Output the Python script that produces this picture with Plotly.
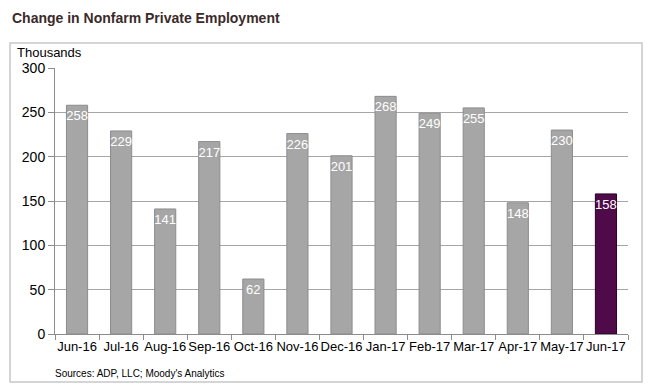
import plotly.graph_objects as go

months = ["Jun-16", "Jul-16", "Aug-16", "Sep-16", "Oct-16", "Nov-16", "Dec-16",
          "Jan-17", "Feb-17", "Mar-17", "Apr-17", "May-17", "Jun-17"]
values = [258, 229, 141, 217, 62, 226, 201, 268, 249, 255, 148, 230, 158]
y_ticks = [0, 50, 100, 150, 200, 250, 300]

gray = "#a6a6a6"
purple = "#4f0a4a"
colors = [gray] * (len(values) - 1) + [purple]
line_colors = ["#8c8c8c"] * (len(values) - 1) + ["#2a0026"]

fig = go.Figure(go.Bar(
    x=months, y=values,
    marker=dict(color=colors, line=dict(color=line_colors, width=1)),
    text=[str(v) for v in values],
    textposition="inside", insidetextanchor="end", constraintext="none",
    textfont=dict(family="Arial, Liberation Sans", size=13, color="white"),
    textangle=0,
    width=0.48,
    cliponaxis=False,
))

# page has an 8px body margin; figure sized/offset to compensate
fig.update_layout(
    width=645, height=382,
    margin=dict(l=47, r=25, t=60, b=56),
    paper_bgcolor="white", plot_bgcolor="white",
    showlegend=False,
    font=dict(family="Arial, Liberation Sans", color="black"),
    xaxis=dict(
        type="category", showgrid=False, showline=True, linecolor="#8c8c8c",
        ticks="outside", tickson="boundaries", ticklen=5, tickcolor="#8c8c8c",
        tickfont=dict(size=13, color="black"), tickangle=0, automargin=False,
    ),
    yaxis=dict(
        range=[0, 300], tickvals=y_ticks, showgrid=True, gridcolor="#a6a6a6",
        showline=True, linecolor="#8c8c8c", ticks="outside", ticklen=6,
        tickcolor="#8c8c8c", tickfont=dict(size=14, color="black"),
        zeroline=False, automargin=False,
    ),
    shapes=[dict(type="rect", xref="paper", yref="paper",
                 x0=-45/573, x1=(642-55)/573, y0=-(382-334)/266, y1=(334-43)/266,
                 line=dict(color="#c8c8c8", width=1.5), fillcolor="rgba(0,0,0,0)", layer="below")],
    annotations=[
        dict(text="<b>Change in Nonfarm Private Employment</b>", xref="paper", yref="paper",
             x=-45/573, y=(334-8)/266, xanchor="left", yanchor="top", showarrow=False,
             font=dict(size=14, color="#3a2a2a")),
        dict(text="Thousands", xref="paper", yref="paper",
             x=-40/573, y=(334-52)/266, xanchor="left", yanchor="middle", showarrow=False,
             font=dict(size=13, color="black")),
        dict(text="Sources: ADP, LLC; Moody's Analytics", xref="paper", yref="paper",
             x=-2/573, y=-(373-334)/266, xanchor="left", yanchor="middle", showarrow=False,
             font=dict(size=10, color="black")),
    ],
)

fig.write_html("out.html")
